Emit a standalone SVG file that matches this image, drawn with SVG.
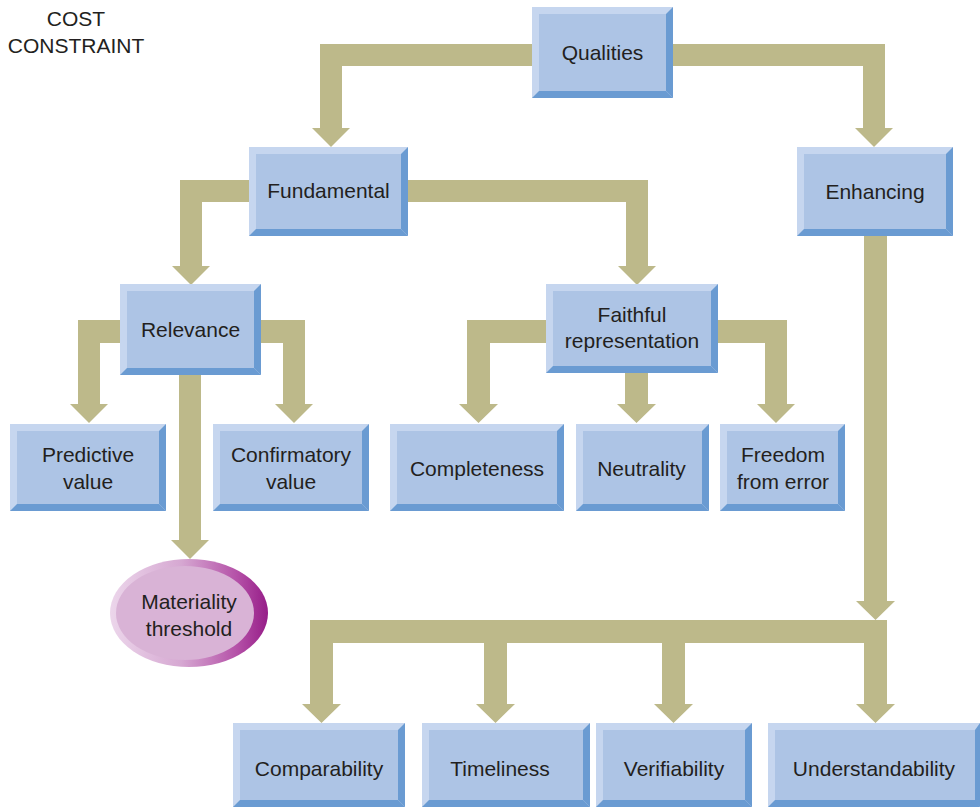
<svg xmlns="http://www.w3.org/2000/svg" width="980" height="807" viewBox="0 0 980 807">
<style>
.lt{fill:#c6d6ef}
.dk{fill:#6a9bd2}
.fc{fill:#adc4e5}
.cn{fill:#bdb98a}
text{font-family:"Liberation Sans",Arial,sans-serif;font-size:21px;fill:#231f20;text-anchor:middle}
</style>
<defs>
<linearGradient id="ring" x1="0" y1="0" x2="1" y2="0">
<stop offset="0" stop-color="#ecd6eb"/>
<stop offset="0.45" stop-color="#d6a8d2"/>
<stop offset="0.8" stop-color="#b552a8"/>
<stop offset="1" stop-color="#961d88"/>
</linearGradient>
</defs>
<rect width="980" height="807" fill="#ffffff"/>
<g id="cost-constraint">
<text x="76" y="26">COST</text>
<text x="76" y="53">CONSTRAINT</text>
</g>
<g id="connectors">
<path class="cn" d="M532,44 H320 V128 H312 L331,147 L350,128 H342 V66 H532 Z"/>
<path class="cn" d="M673,44 H885 V128 H893 L874,147 L855,128 H863 V66 H673 Z"/>
<path class="cn" d="M249,180 H180 V266 H172 L191,285 L210,266 H202 V202 H249 Z"/>
<path class="cn" d="M408,180 H648 V266 H656 L637,285 L618,266 H626 V202 H408 Z"/>
<path class="cn" d="M120,320 H78 V404 H70 L89,423 L108,404 H100 V343 H120 Z"/>
<path class="cn" d="M261,320 H305 V404 H313 L294,423 L275,404 H283 V343 H261 Z"/>
<path class="cn" d="M179,375 V540 H171 L190,559 L209,540 H201 V375 Z"/>
<path class="cn" d="M546,320 H467 V404 H459 L478.5,423 L498,404 H490 V343 H546 Z"/>
<path class="cn" d="M625,373 V404 H617 L636.5,423 L656,404 H648 V373 Z"/>
<path class="cn" d="M718,320 H787 V404 H795 L776,423 L757,404 H765 V343 H718 Z"/>
<path class="cn" d="M864,236 V601 H856 L875.5,620 L895,601 H887 V236 Z"/>
<rect class="cn" x="310" y="620" width="577" height="23"/>
<path class="cn" d="M310,643 V704 H302 L321.5,723 L341,704 H333 V643 Z"/>
<path class="cn" d="M484,643 V704 H476 L495.5,723 L515,704 H507 V643 Z"/>
<path class="cn" d="M662,643 V704 H654 L673.5,723 L693,704 H685 V643 Z"/>
<path class="cn" d="M864,643 V704 H856 L875.5,723 L895,704 H887 V643 Z"/>
</g>
<g id="qualities">
<rect class="lt" x="532" y="7" width="141" height="91"/>
<polygon class="dk" points="673,7 673,98 666,91 666,14"/>
<polygon class="dk" points="532,98 673,98 666,91 539,91"/>
<rect class="fc" x="539" y="14" width="127" height="77"/>
<text x="602.5" y="60">Qualities</text>
</g>
<g id="fundamental">
<rect class="lt" x="249" y="147" width="159" height="89"/>
<polygon class="dk" points="408,147 408,236 401,229 401,154"/>
<polygon class="dk" points="249,236 408,236 401,229 256,229"/>
<rect class="fc" x="256" y="154" width="145" height="75"/>
<text x="328.5" y="198">Fundamental</text>
</g>
<g id="enhancing">
<rect class="lt" x="797" y="147" width="156" height="89"/>
<polygon class="dk" points="953,147 953,236 946,229 946,154"/>
<polygon class="dk" points="797,236 953,236 946,229 804,229"/>
<rect class="fc" x="804" y="154" width="142" height="75"/>
<text x="875" y="199">Enhancing</text>
</g>
<g id="relevance">
<rect class="lt" x="120" y="284" width="141" height="91"/>
<polygon class="dk" points="261,284 261,375 254,368 254,291"/>
<polygon class="dk" points="120,375 261,375 254,368 127,368"/>
<rect class="fc" x="127" y="291" width="127" height="77"/>
<text x="190.5" y="337">Relevance</text>
</g>
<g id="faithful">
<rect class="lt" x="546" y="284" width="172" height="89"/>
<polygon class="dk" points="718,284 718,373 711,366 711,291"/>
<polygon class="dk" points="546,373 718,373 711,366 553,366"/>
<rect class="fc" x="553" y="291" width="158" height="75"/>
<text x="632" y="322">Faithful</text>
<text x="632" y="348">representation</text>
</g>
<g id="predictive">
<rect class="lt" x="10" y="424" width="156" height="87"/>
<polygon class="dk" points="166,424 166,511 159,504 159,431"/>
<polygon class="dk" points="10,511 166,511 159,504 17,504"/>
<rect class="fc" x="17" y="431" width="142" height="73"/>
<text x="88" y="462">Predictive</text>
<text x="88" y="489">value</text>
</g>
<g id="confirmatory">
<rect class="lt" x="213" y="424" width="156" height="87"/>
<polygon class="dk" points="369,424 369,511 362,504 362,431"/>
<polygon class="dk" points="213,511 369,511 362,504 220,504"/>
<rect class="fc" x="220" y="431" width="142" height="73"/>
<text x="291" y="462">Confirmatory</text>
<text x="291" y="489">value</text>
</g>
<g id="completeness">
<rect class="lt" x="390" y="424" width="174" height="87"/>
<polygon class="dk" points="564,424 564,511 557,504 557,431"/>
<polygon class="dk" points="390,511 564,511 557,504 397,504"/>
<rect class="fc" x="397" y="431" width="160" height="73"/>
<text x="477" y="476">Completeness</text>
</g>
<g id="neutrality">
<rect class="lt" x="576" y="424" width="133" height="87"/>
<polygon class="dk" points="709,424 709,511 702,504 702,431"/>
<polygon class="dk" points="576,511 709,511 702,504 583,504"/>
<rect class="fc" x="583" y="431" width="119" height="73"/>
<text x="641.5" y="476">Neutrality</text>
</g>
<g id="freedom">
<rect class="lt" x="720" y="424" width="125" height="87"/>
<polygon class="dk" points="845,424 845,511 838,504 838,431"/>
<polygon class="dk" points="720,511 845,511 838,504 727,504"/>
<rect class="fc" x="727" y="431" width="111" height="73"/>
<text x="783" y="462">Freedom</text>
<text x="783" y="489">from error</text>
</g>
<g id="materiality">
<ellipse cx="189" cy="613" rx="79" ry="54" fill="url(#ring)"/>
<ellipse cx="185" cy="613" rx="69" ry="47" fill="#d9b3d6"/>
<text x="189" y="609">Materiality</text>
<text x="189" y="636">threshold</text>
</g>
<g id="comparability">
<rect class="lt" x="233" y="723" width="172" height="84"/>
<polygon class="dk" points="405,723 405,807 398,800 398,730"/>
<polygon class="dk" points="233,807 405,807 398,800 240,800"/>
<rect class="fc" x="240" y="730" width="158" height="70"/>
<text x="319" y="776">Comparability</text>
</g>
<g id="timeliness">
<rect class="lt" x="422" y="723" width="168" height="84"/>
<polygon class="dk" points="590,723 590,807 583,800 583,730"/>
<polygon class="dk" points="422,807 590,807 583,800 429,800"/>
<rect class="fc" x="429" y="730" width="154" height="70"/>
<text x="500" y="776">Timeliness</text>
</g>
<g id="verifiability">
<rect class="lt" x="596" y="723" width="156" height="84"/>
<polygon class="dk" points="752,723 752,807 745,800 745,730"/>
<polygon class="dk" points="596,807 752,807 745,800 603,800"/>
<rect class="fc" x="603" y="730" width="142" height="70"/>
<text x="674" y="776">Verifiability</text>
</g>
<g id="understandability">
<rect class="lt" x="768" y="723" width="212" height="84"/>
<polygon class="dk" points="980,723 980,807 975,802 975,730"/>
<polygon class="dk" points="768,807 980,807 975,800 775,800"/>
<rect class="fc" x="775" y="730" width="200" height="70"/>
<text x="874" y="776">Understandability</text>
</g>
</svg>
